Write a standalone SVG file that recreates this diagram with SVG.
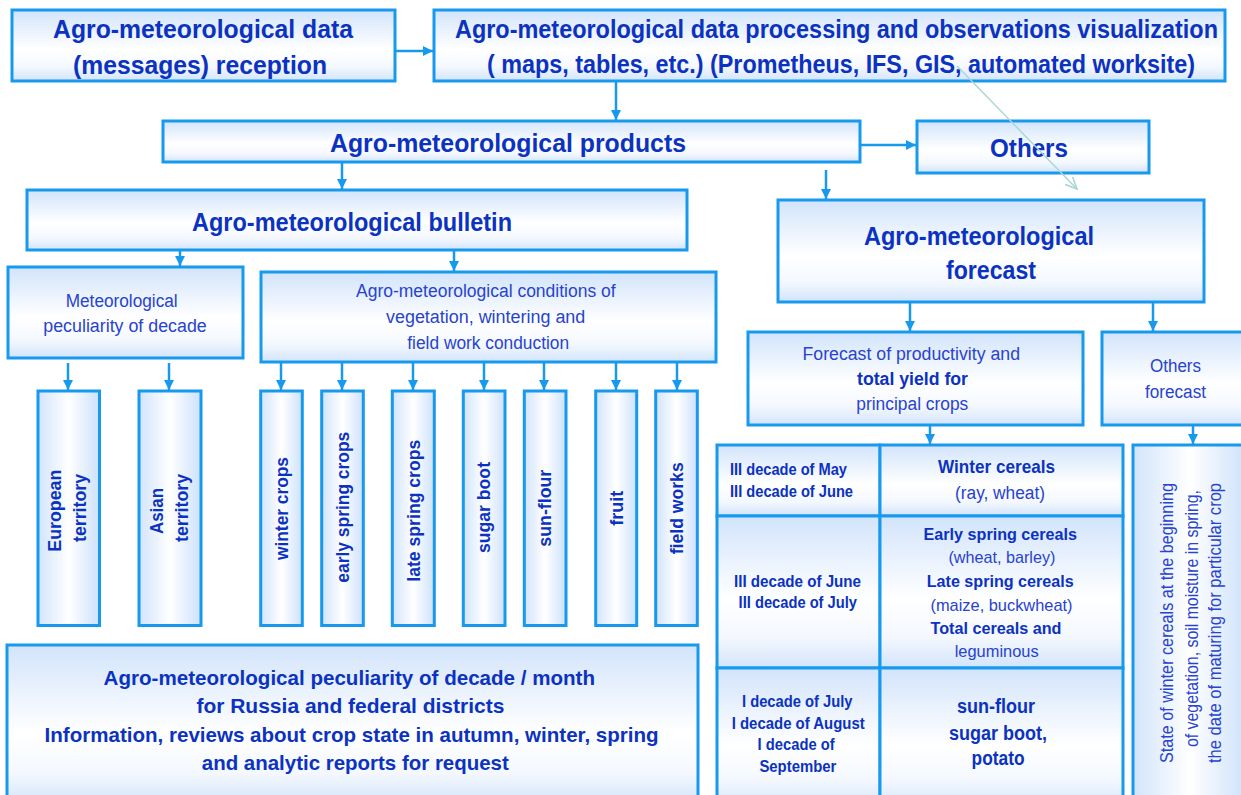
<svg xmlns="http://www.w3.org/2000/svg" width="1241" height="795" viewBox="0 0 1241 795">
<defs>
<linearGradient id="gv" x1="0" y1="0" x2="0" y2="1">
<stop offset="0" stop-color="#d2e4fb"/>
<stop offset="0.55" stop-color="#ffffff"/>
<stop offset="0.8" stop-color="#f4f8fe"/>
<stop offset="1" stop-color="#d2e4fb"/>
</linearGradient>
<linearGradient id="gh" x1="0" y1="0" x2="1" y2="0">
<stop offset="0" stop-color="#d2e4fb"/>
<stop offset="0.5" stop-color="#ffffff"/>
<stop offset="1" stop-color="#cde1fb"/>
</linearGradient>
<marker id="ah" viewBox="0 0 10 10" refX="10" refY="5" markerWidth="10" markerHeight="10" markerUnits="userSpaceOnUse" orient="auto">
<path d="M0,0 L10,5 L0,10 z" fill="#1799ee"/>
</marker>
<marker id="ah2" viewBox="0 0 12 12" refX="11" refY="6" markerWidth="13" markerHeight="13" markerUnits="userSpaceOnUse" orient="auto">
<path d="M0,1 L11,6 L0,11" fill="none" stroke="#a9d6d6" stroke-width="1.5"/>
</marker>
</defs>
<style>
.bv{fill:url(#gv);stroke:#1799ee;stroke-width:3}
.bh{fill:url(#gh);stroke:#1799ee;stroke-width:3}
.c{fill:none;stroke:#1799ee;stroke-width:2.5;marker-end:url(#ah)}
.c2{fill:none;stroke:#a9d6d6;stroke-width:1.5;marker-end:url(#ah2)}
text{font-family:"Liberation Sans",Arial,sans-serif}
.t1{font-size:26px;font-weight:bold;fill:#0b32c0}
.t2{font-size:21px;font-weight:bold;fill:#0b32c0}
.tb{font-size:19px;font-weight:bold;fill:#0b32c0}
.ts{font-size:16px;font-weight:bold;fill:#0b32c0}
.tr{font-size:18px;font-weight:normal;fill:#2843cf}
</style>
<rect width="1241" height="795" fill="#ffffff"/>

<g id="reception">
<rect class="bv" x="12" y="10" width="383" height="71"/>
<text class="t1" x="53" y="38" textLength="300" lengthAdjust="spacingAndGlyphs">Agro-meteorological data</text>
<text class="t1" x="73" y="74" textLength="254" lengthAdjust="spacingAndGlyphs">(messages) reception</text>
</g>

<g id="processing">
<rect class="bv" x="434" y="10" width="791" height="71"/>
<g transform="translate(455,38) scale(0.88,1)">
<text class="t1" x="0" y="0" textLength="867" lengthAdjust="spacingAndGlyphs">Agro-meteorological data processing and observations visualization</text>
</g>
<g transform="translate(487,73) scale(0.88,1)">
<text class="t1" x="0" y="0" textLength="804.5" lengthAdjust="spacingAndGlyphs">( maps, tables, etc.) (Prometheus, IFS, GIS, automated worksite)</text>
</g>
</g>

<g id="products">
<rect class="bv" x="163" y="121" width="697" height="41"/>
<text class="t1" x="330" y="152" textLength="356" lengthAdjust="spacingAndGlyphs">Agro-meteorological products</text>
</g>

<g id="others">
<rect class="bv" x="917" y="121" width="232" height="52"/>
<text class="t1" x="990" y="157" textLength="78" lengthAdjust="spacingAndGlyphs">Others</text>
</g>

<g id="bulletin">
<rect class="bv" x="27" y="190" width="660" height="60"/>
<text class="t1" x="192" y="231" textLength="320" lengthAdjust="spacingAndGlyphs">Agro-meteorological bulletin</text>
</g>

<g id="forecast">
<rect class="bv" x="778" y="200" width="426" height="102"/>
<text class="t1" x="864" y="245" textLength="230" lengthAdjust="spacingAndGlyphs">Agro-meteorological</text>
<text class="t1" x="946" y="279" textLength="90" lengthAdjust="spacingAndGlyphs">forecast</text>
</g>

<g id="meteo-peculiarity">
<rect class="bv" x="8" y="267" width="235" height="91"/>
<text class="tr" x="65.7" y="307" textLength="112" lengthAdjust="spacingAndGlyphs">Meteorological</text>
<text class="tr" x="43.3" y="332" textLength="163.4" lengthAdjust="spacingAndGlyphs">peculiarity of  decade</text>
</g>

<g id="agro-conditions">
<rect class="bv" x="261" y="272" width="455" height="90"/>
<text class="tr" x="356" y="297" textLength="259.6" lengthAdjust="spacingAndGlyphs">Agro-meteorological conditions of</text>
<text class="tr" x="386" y="323" textLength="199.3" lengthAdjust="spacingAndGlyphs">vegetation,  wintering and</text>
<text class="tr" x="407.3" y="349" textLength="161.8" lengthAdjust="spacingAndGlyphs">field work conduction</text>
</g>

<g id="european">
<rect class="bh" x="38" y="391" width="61.5" height="234.5"/>
<text class="tb" transform="translate(61,551.7) rotate(-90)" textLength="82" lengthAdjust="spacingAndGlyphs">European</text>
<text class="tb" transform="translate(86,542) rotate(-90)" textLength="68" lengthAdjust="spacingAndGlyphs">territory</text>
</g>

<g id="asian">
<rect class="bh" x="139" y="391" width="62" height="234.5"/>
<text class="tb" transform="translate(163,534) rotate(-90)" textLength="46" lengthAdjust="spacingAndGlyphs">Asian</text>
<text class="tb" transform="translate(188,542) rotate(-90)" textLength="68" lengthAdjust="spacingAndGlyphs">territory</text>
</g>

<g id="winter-crops">
<rect class="bh" x="260.7" y="391" width="41.6" height="234.5"/>
<text class="tb" transform="translate(288,560) rotate(-90)" textLength="103" lengthAdjust="spacingAndGlyphs">winter crops</text>
</g>

<g id="early-spring-crops">
<rect class="bh" x="321.7" y="391" width="41.6" height="234.5"/>
<text class="tb" transform="translate(348.5,582.7) rotate(-90)" textLength="151" lengthAdjust="spacingAndGlyphs">early spring crops</text>
</g>

<g id="late-spring-crops">
<rect class="bh" x="392.3" y="391" width="42" height="234.5"/>
<text class="tb" transform="translate(419.5,581.7) rotate(-90)" textLength="142" lengthAdjust="spacingAndGlyphs">late spring crops</text>
</g>

<g id="sugar-boot">
<rect class="bh" x="463.3" y="391" width="41.7" height="234.5"/>
<text class="tb" transform="translate(490,553) rotate(-90)" textLength="91" lengthAdjust="spacingAndGlyphs">sugar boot</text>
</g>

<g id="sun-flour">
<rect class="bh" x="524.3" y="391" width="41.7" height="234.5"/>
<text class="tb" transform="translate(551,546.7) rotate(-90)" textLength="77" lengthAdjust="spacingAndGlyphs">sun-flour</text>
</g>

<g id="fruit">
<rect class="bh" x="595.7" y="391" width="41" height="234.5"/>
<text class="tb" transform="translate(622.5,525.7) rotate(-90)" textLength="35" lengthAdjust="spacingAndGlyphs">fruit</text>
</g>

<g id="field-works">
<rect class="bh" x="655.7" y="391" width="41.6" height="234.5"/>
<text class="tb" transform="translate(683,554.3) rotate(-90)" textLength="92" lengthAdjust="spacingAndGlyphs">field works</text>
</g>

<g id="peculiarity-month">
<rect class="bv" x="7" y="645" width="691" height="160"/>
<text class="t2" x="103.6" y="685" textLength="491.4" lengthAdjust="spacingAndGlyphs">Agro-meteorological peculiarity of decade / month</text>
<text class="t2" x="196.4" y="713" textLength="308" lengthAdjust="spacingAndGlyphs">for  Russia and federal districts</text>
<text class="t2" x="44.6" y="742" textLength="614" lengthAdjust="spacingAndGlyphs">Information, reviews about crop state in autumn, winter, spring</text>
<text class="t2" x="201.8" y="770" textLength="307" lengthAdjust="spacingAndGlyphs">and analytic reports for request</text>
</g>

<g id="productivity">
<rect class="bv" x="748" y="332" width="335" height="93"/>
<text class="tr" x="802.5" y="360" textLength="217.5" lengthAdjust="spacingAndGlyphs">Forecast  of productivity and</text>
<text class="tb" x="857" y="385" textLength="111" lengthAdjust="spacingAndGlyphs" style="font-size:18px">total yield for</text>
<text class="tr" x="856.3" y="410" textLength="112" lengthAdjust="spacingAndGlyphs">principal crops</text>
</g>

<g id="others-forecast">
<rect class="bv" x="1102" y="332" width="145" height="93"/>
<text class="tr" x="1150" y="372" textLength="51" lengthAdjust="spacingAndGlyphs">Others</text>
<text class="tr" x="1145" y="398" textLength="61" lengthAdjust="spacingAndGlyphs">forecast</text>
</g>

<g id="yield-table">
<rect class="bv" x="717" y="445" width="163" height="71"/>
<rect class="bv" x="880" y="445" width="243" height="71"/>
<rect class="bv" x="717" y="516" width="163" height="152"/>
<rect class="bv" x="880" y="516" width="243" height="152"/>
<rect class="bv" x="717" y="668" width="163" height="140"/>
<rect class="bv" x="880" y="668" width="243" height="140"/>
<text class="ts" x="730" y="475" textLength="117" lengthAdjust="spacingAndGlyphs">III decade of May</text>
<text class="ts" x="730" y="497" textLength="123" lengthAdjust="spacingAndGlyphs">III decade of June</text>
<text class="tb" x="938" y="473" textLength="117" lengthAdjust="spacingAndGlyphs">Winter cereals</text>
<text class="tr" x="955" y="499" textLength="90" lengthAdjust="spacingAndGlyphs">(ray, wheat)</text>
<text class="ts" x="734" y="587" textLength="127" lengthAdjust="spacingAndGlyphs">III  decade of June</text>
<text class="ts" x="738.6" y="608" textLength="118.4" lengthAdjust="spacingAndGlyphs">III decade of July</text>
<text class="tb" x="923.6" y="540" style="font-size:17px" textLength="153.4" lengthAdjust="spacingAndGlyphs">Early spring cereals</text>
<text class="tr" x="948.4" y="563" style="font-size:17px" textLength="107" lengthAdjust="spacingAndGlyphs">(wheat, barley)</text>
<text class="tb" x="926.7" y="587" style="font-size:17px" textLength="147" lengthAdjust="spacingAndGlyphs">Late spring cereals</text>
<text class="tr" x="930.5" y="611" style="font-size:17px" textLength="142" lengthAdjust="spacingAndGlyphs">(maize, buckwheat)</text>
<text class="tb" x="930.5" y="634" style="font-size:17px" textLength="131" lengthAdjust="spacingAndGlyphs">Total cereals and</text>
<text class="tr" x="954.7" y="657" style="font-size:17px" textLength="84" lengthAdjust="spacingAndGlyphs">leguminous</text>
<text class="ts" x="742" y="707" textLength="110.5" lengthAdjust="spacingAndGlyphs">I decade of July</text>
<text class="ts" x="731.7" y="729" textLength="133" lengthAdjust="spacingAndGlyphs">I decade of August</text>
<text class="ts" x="757.6" y="750" textLength="77" lengthAdjust="spacingAndGlyphs">I decade of</text>
<text class="ts" x="759.4" y="772" textLength="77" lengthAdjust="spacingAndGlyphs">September</text>
<text class="tb" x="957" y="713" style="font-size:20px" textLength="78" lengthAdjust="spacingAndGlyphs">sun-flour</text>
<text class="tb" x="949" y="740" style="font-size:20px" textLength="98" lengthAdjust="spacingAndGlyphs">sugar boot,</text>
<text class="tb" x="971.6" y="765" style="font-size:20px" textLength="53" lengthAdjust="spacingAndGlyphs">potato</text>
</g>

<g id="winter-state">
<rect class="bh" x="1133" y="445" width="114" height="360"/>
<text class="tr" transform="translate(1173,763) rotate(-90)" textLength="280" lengthAdjust="spacingAndGlyphs">State of winter cereals at the beginning</text>
<text class="tr" transform="translate(1198,747) rotate(-90)" textLength="257" lengthAdjust="spacingAndGlyphs">of vegetation,  soil moisture in spring,</text>
<text class="tr" transform="translate(1221,763) rotate(-90)" textLength="280" lengthAdjust="spacingAndGlyphs">the date of  maturing  for particular crop</text>
</g>

<g id="connectors">
<path class="c" d="M395,51 H433"/>
<path class="c" d="M616,81 V120"/>
<path class="c" d="M860,145 H916"/>
<path class="c" d="M342,162 V189"/>
<path class="c" d="M826,170 V199"/>
<path class="c" d="M180,250 V266"/>
<path class="c" d="M454,250 V271"/>
<path class="c" d="M910,302 V331"/>
<path class="c" d="M1153,302 V331"/>
<path class="c" d="M930,425 V444"/>
<path class="c" d="M1193,425 V444"/>
<path class="c" d="M68,363 V390"/>
<path class="c" d="M169,363 V390"/>
<path class="c" d="M281,362 V390"/>
<path class="c" d="M342,362 V390"/>
<path class="c" d="M413,362 V390"/>
<path class="c" d="M484,362 V390"/>
<path class="c" d="M544,362 V390"/>
<path class="c" d="M616,362 V390"/>
<path class="c" d="M677,362 V390"/>
<path class="c2" d="M957,66 L1077,189"/>
</g>
</svg>
